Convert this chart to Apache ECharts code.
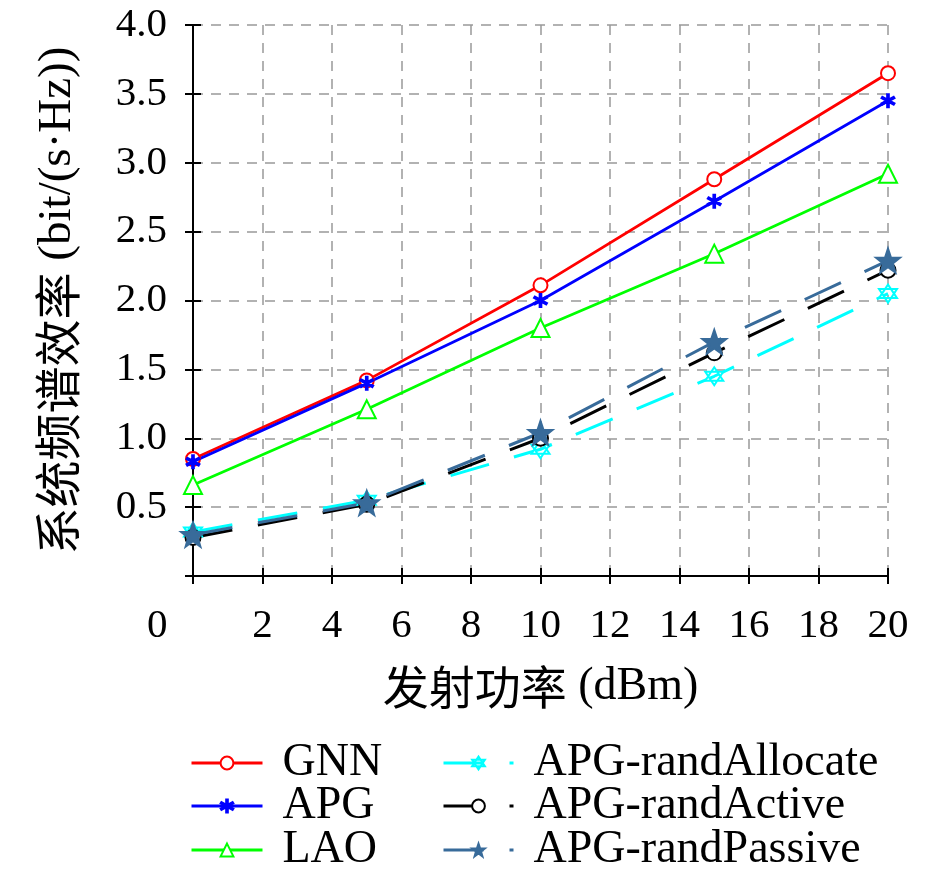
<!DOCTYPE html>
<html>
<head>
<meta charset="utf-8">
<script src="https://cdn.jsdelivr.net/npm/echarts@6/dist/echarts.min.js"></script>
<style>
  html, body { margin: 0; padding: 0; background: #fff; }
  #chart { width: 945px; height: 872px; }
</style>
</head>
<body>
<div id="chart"></div>
<script>
// 发射功率 (dBm)
const powerDbm = [0, 5, 10, 15, 20];
// 各方案系统频谱效率
const gnn = [0.85, 1.42, 2.11, 2.88, 3.65];
const apg = [0.83, 1.40, 2.00, 2.72, 3.45];
const lao = [0.66, 1.21, 1.80, 2.34, 2.92];
const randAllocate = [0.32, 0.55, 0.92, 1.45, 2.05];
const randActive = [0.28, 0.52, 1.00, 1.62, 2.22];
const randPassive = [0.30, 0.53, 1.04, 1.70, 2.29];

const SERIF = '"Liberation Serif", serif';
const CJK = '"Noto Sans CJK SC", sans-serif';

// 标记形状
const asterisk = 'path://M-1.2,10L1.2,10L1.2,-10L-1.2,-10Z' +
  'M8.06,6.04L9.26,3.96L-8.06,-6.04L-9.26,-3.96Z' +
  'M-9.26,3.96L-8.06,6.04L9.26,-3.96L8.06,-6.04Z';
const hexagram = 'path://M0,-10L8.66,5L-8.66,5Z M0,10L8.66,-5L-8.66,-5Z';
const star5 = 'path://M0,-10L2.35,-3.24L9.51,-3.09L3.8,1.24L5.88,8.09L0,4L-5.88,8.09L-3.8,1.24L-9.51,-3.09L-2.35,-3.24Z';

function pairs(ys) {
  return powerDbm.map((x, i) => [x, ys[i]]);
}

function solid(name, data, color, symbol, size) {
  return {
    name: name,
    type: 'line',
    data: pairs(data),
    symbol: symbol,
    symbolSize: size,
    lineStyle: { color: color, width: 2.8 },
    itemStyle: { color: color, borderColor: color, borderWidth: 2 },
    z: 3
  };
}

function dashed(name, data, color, symbol, size, fill) {
  return {
    name: name,
    type: 'line',
    data: pairs(data),
    symbol: symbol,
    symbolSize: size,
    lineStyle: { color: color, width: 3, type: [40, 26] },
    itemStyle: { color: fill || color, borderColor: color, borderWidth: 2 },
    z: 2
  };
}

// 坐标轴标题: 中文用黑体, 西文用衬线体
function axisTitle(size) {
  return {
    fontSize: size,
    color: '#000',
    rich: {
      c: { fontFamily: CJK, fontSize: size, color: '#000' },
      l: { fontFamily: SERIF, fontSize: size, color: '#000' }
    }
  };
}

// 每个图例项单独放置, 两列三行
function legendItem(name, left, top, width) {
  return {
    data: [name],
    left: left,
    top: top,
    padding: 0,
    itemWidth: width,
    itemHeight: 16,
    lineStyle: { width: 3 },
    textStyle: {
      fontFamily: SERIF,
      fontSize: 46,
      color: '#000',
      padding: [0, 0, 0, 15]
    }
  };
}

const rowTops = [740, 783, 827];

let chart = echarts.init(document.getElementById('chart'));
chart.setOption({
  backgroundColor: '#fff',
  animation: false,
  textStyle: { fontFamily: SERIF },
  grid: { left: 193, right: 57, top: 25, bottom: 296 },
  legend: [
    legendItem('GNN', 190, rowTops[0], 71),
    legendItem('APG', 190, rowTops[1], 71),
    legendItem('LAO', 190, rowTops[2], 71),
    legendItem('APG-randAllocate', 442, rowTops[0], 70),
    legendItem('APG-randActive', 442, rowTops[1], 70),
    legendItem('APG-randPassive', 442, rowTops[2], 70)
  ],
  xAxis: [
    {
      type: 'value',
      min: 0,
      max: 20,
      interval: 2,
      name: '{c|发射功率} {l|(dBm)}',
      nameLocation: 'middle',
      nameGap: 88,
      nameTextStyle: axisTitle(46),
      axisLine: { lineStyle: { color: '#000', width: 2 } },
      axisTick: { inside: true, length: 8, lineStyle: { color: '#000', width: 2 } },
      axisLabel: {
        margin: 30,
        fontFamily: SERIF,
        fontSize: 41,
        color: '#000',
        formatter: v => (v === 0 ? '' : String(v))
      },
      splitLine: { show: true, lineStyle: { color: '#999', width: 1.5, type: [10, 8] } }
    },
    {
      type: 'value',
      position: 'top',
      min: 0,
      max: 20,
      interval: 2,
      axisLine: { lineStyle: { color: '#000', width: 2 } },
      axisTick: { inside: true, length: 8, lineStyle: { color: '#000', width: 2 } },
      axisLabel: { show: false },
      splitLine: { show: false }
    }
  ],
  yAxis: [
    {
      type: 'value',
      min: 0,
      max: 4,
      interval: 0.5,
      name: '{c|系统频谱效率} {l|(bit/(s·Hz))}',
      nameLocation: 'middle',
      nameGap: 112,
      nameTextStyle: axisTitle(47),
      axisLine: { lineStyle: { color: '#000', width: 2 } },
      axisTick: { inside: true, length: 8, lineStyle: { color: '#000', width: 2 } },
      axisLabel: {
        margin: 26,
        fontFamily: SERIF,
        fontSize: 41,
        color: '#000',
        formatter: v => (v === 0 ? '' : v.toFixed(1))
      },
      splitLine: { show: true, lineStyle: { color: '#999', width: 1.5, type: [10, 8] } }
    },
    {
      type: 'value',
      position: 'right',
      min: 0,
      max: 4,
      interval: 0.5,
      axisLine: { show: true, lineStyle: { color: '#000', width: 2 } },
      axisTick: { show: true, inside: true, length: 8, lineStyle: { color: '#000', width: 2 } },
      axisLabel: { show: false },
      splitLine: { show: false }
    }
  ],
  graphic: [
    {
      type: 'text',
      left: 147,
      top: 606,
      style: { text: '0', font: '41px ' + SERIF, fill: '#000' }
    }
  ],
  series: [
    solid('GNN', gnn, '#ff0000', 'emptyCircle', 14),
    solid('APG', apg, '#0000ff', asterisk, 13),
    solid('LAO', lao, '#00ff00', 'emptyTriangle', 18),
    dashed('APG-randAllocate', randAllocate, '#00ffff', hexagram, 18, '#ffffff'),
    dashed('APG-randActive', randActive, '#000000', 'emptyCircle', 15),
    dashed('APG-randPassive', randPassive, '#386b9a', star5, 24)
  ]
});
</script>
</body>
</html>
